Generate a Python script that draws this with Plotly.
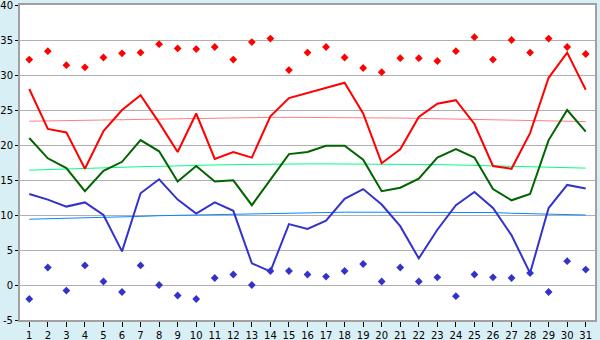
import plotly.graph_objects as go

days = list(range(1, 32))

tmax = [28.0, 22.3, 21.8, 16.6, 22.0, 25.0, 27.1, 23.2, 19.0, 24.5,
        18.0, 19.0, 18.2, 24.1, 26.7, 27.4, 28.1, 28.9, 24.5, 17.4,
        19.4, 24.0, 25.9, 26.4, 23.0, 17.0, 16.6, 21.7, 29.6, 33.2, 27.9]

tmean = [21.0, 18.1, 16.7, 13.4, 16.3, 17.6, 20.7, 19.1, 14.8, 17.0,
         14.8, 14.95, 11.4, 15.0, 18.7, 19.0, 19.9, 19.9, 17.9, 13.4,
         13.9, 15.2, 18.2, 19.4, 18.2, 13.7, 12.1, 13.0, 20.7, 25.0, 21.9]

tmin = [13.0, 12.2, 11.2, 11.8, 10.0, 4.8, 13.1, 15.1, 12.2, 10.2,
        11.8, 10.6, 3.1, 1.95, 8.7, 8.0, 9.2, 12.3, 13.7, 11.5,
        8.4, 3.8, 7.9, 11.4, 13.3, 11.0, 7.1, 1.7, 11.0, 14.3, 13.8]

rec_high = [32.2, 33.4, 31.4, 31.1, 32.5, 33.1, 33.2, 34.4, 33.8, 33.7,
            34.0, 32.2, 34.7, 35.2, 30.7, 33.2, 34.0, 32.5, 31.0, 30.4,
            32.4, 32.4, 32.0, 33.4, 35.4, 32.2, 35.0, 33.2, 35.2, 34.0, 33.0]

rec_low = [-2.0, 2.5, -0.8, 2.8, 0.5, -1.0, 2.8, 0.0, -1.5, -2.0,
           1.0, 1.5, 0.0, 2.0, 2.0, 1.5, 1.2, 2.0, 3.0, 0.5,
           2.5, 0.5, 1.1, -1.6, 1.5, 1.1, 1.0, 1.7, -1.0, 3.4, 2.2]

norm_max = [23.4, 23.45, 23.5, 23.55, 23.6, 23.65, 23.7, 23.75, 23.8, 23.85,
            23.9, 23.9, 23.95, 23.95, 23.95, 23.95, 23.95, 23.95, 23.95, 23.9,
            23.85, 23.8, 23.75, 23.7, 23.65, 23.6, 23.55, 23.5, 23.45, 23.4, 23.35]

norm_mean = [16.4, 16.5, 16.55, 16.65, 16.75, 16.8, 16.9, 16.95, 17.05, 17.1,
             17.15, 17.2, 17.25, 17.25, 17.3, 17.3, 17.3, 17.3, 17.3, 17.3,
             17.3, 17.25, 17.2, 17.15, 17.1, 17.05, 17.0, 16.9, 16.85, 16.75, 16.7]

norm_min = [9.4, 9.45, 9.5, 9.55, 9.65, 9.75, 9.8, 9.9, 9.95, 10.05,
            10.15, 10.2, 10.25, 10.3, 10.35, 10.4, 10.4, 10.4, 10.4, 10.4,
            10.4, 10.4, 10.4, 10.4, 10.4, 10.35, 10.25, 10.2, 10.15, 10.1, 10.0]

y_ticks = [-5, 0, 5, 10, 15, 20, 25, 30, 35, 40]
y_tick_labels = ["-5", "0", "5", "10", "15", "20", "25", "30", "35", "40"]

fig = go.Figure()

for vals, col in [(norm_max, "#ff8080"), (norm_mean, "#00ff80"), (norm_min, "#0a84ff")]:
    fig.add_trace(go.Scatter(x=days, y=vals, mode="lines",
                             line=dict(color=col, width=1), hoverinfo="skip"))

for vals, col in [(tmax, "#ff0000"), (tmean, "#006400"), (tmin, "#3333cc")]:
    fig.add_trace(go.Scatter(x=days, y=vals, mode="lines",
                             line=dict(color=col, width=2)))

fig.add_trace(go.Scatter(x=days, y=rec_high, mode="markers",
                         marker=dict(symbol="diamond", size=6, color="#ff0000")))
fig.add_trace(go.Scatter(x=days, y=rec_low, mode="markers",
                         marker=dict(symbol="diamond", size=6, color="#3333cc")))

axis_font = dict(family="DejaVu Sans", size=10, color="#000000")

fig.update_layout(
    width=600, height=340,
    margin=dict(l=20, r=5, t=5, b=20, autoexpand=False),
    paper_bgcolor="#d9eff6",
    plot_bgcolor="#ffffff",
    showlegend=False,
    xaxis=dict(range=[0.5, 31.5], tickmode="array", tickvals=days,
               ticktext=[str(d) for d in days], showgrid=False, zeroline=False,
               showline=True, linecolor="#a0a0a0", linewidth=2, mirror=True,
               ticks="outside", ticklen=5, tickcolor="#000000", tickfont=axis_font,
               automargin=False, ticklabeloverflow="allow"),
    yaxis=dict(range=[-5, 40], tickmode="array", tickvals=y_ticks,
               ticktext=y_tick_labels,
               showgrid=True, gridcolor="#b0b0b0", gridwidth=1, zeroline=False,
               showline=True, linecolor="#a0a0a0", linewidth=2, mirror=True,
               ticks="outside", ticklen=3, tickcolor="#000000", tickfont=axis_font,
               automargin=False, ticklabeloverflow="allow"),
)

fig.write_html("out.html", config={"displayModeBar": False},
               post_script="document.body.style.margin='0';document.body.style.overflow='hidden';")
